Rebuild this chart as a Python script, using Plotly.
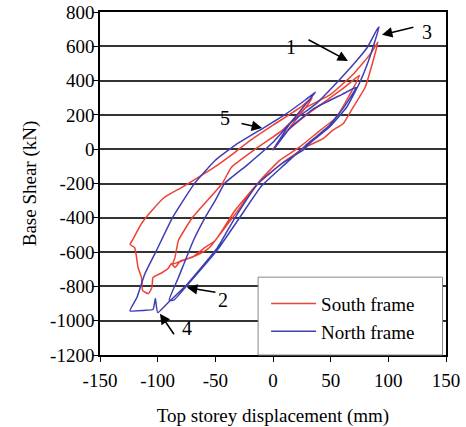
import plotly.graph_objects as go

# South frame (red): top storey displacement (mm) / base shear (kN)
south_d = [0, 15, 28, 34, 25, 0, -20, -33, -46, -59, -79, -94, -105, -114, -122, -124, -120, -119,
           -117, -114, -113, -108, -105, -104, -96, -91, -88, -85, -80, -70, -59, -50,
           -33, -13, 8, 28, 43, 52, 61, 68, 80, 87, 91,
           85, 70, 50, 28, 8, -13, -36, -44, -70, -82, -85, -87,
           -83, -78, -63, -55, -35, -11, 6, 23, 38, 55, 65, 75,
           60, 32, 12, 0]
south_v = [0, 130, 240, 300, 250, 140, 50, -18, -82, -140, -222, -280, -357, -433, -532, -555, -573, -600,
           -690, -748, -825, -842, -807, -748, -719, -696, -667, -690, -650, -630, -573, -532,
           -357, -199, -82, 12, 60, 111, 150, 228, 363, 520, 626,
           560, 440, 320, 240, 110, 12, -105, -200, -400, -532, -632, -670,
           -661, -649, -608, -573, -398, -181, -64, 12, 94, 187, 300, 430,
           350, 215, 105, 0]

# North frame (blue)
north_d = [0, 8, 15, 28, 37, 28, 10, -7, -33, -50, -68, -87, -101, -111, -118, -124,
           -112, -104, -102, -100, -91,
           -74, -48, -33, -13, 8, 26, 32, 49, 64, 75, 84, 92,
           90, 82, 73, 55, 38, 15, 0, -22, -42, -50, -59, -69, -82, -90,
           -86, -74, -48, -30, -10, 10, 28, 49, 62, 72,
           60, 35, 15, 0]
north_v = [-6, 80, 152, 260, 333, 287, 200, 129, 23, -64, -199, -398, -590, -725, -865, -942,
           -940, -935, -871, -953, -895,
           -784, -573, -400, -200, -82, -6, 35, 129, 246, 386, 538, 713,
           696, 596, 520, 386, 269, 152, 40, -90, -200, -298, -400, -532, -748, -880,
           -880, -790, -585, -410, -215, -90, 20, 140, 250, 360,
           320, 235, 125, -6]

x_ticks = [-150, -100, -50, 0, 50, 100, 150]
y_ticks = [800, 600, 400, 200, 0, -200, -400, -600, -800, -1000, -1200]

# Callout labels: text, label position, arrow tail, arrow tip
labels = ["1", "3", "5", "2", "4"]
label_xy = [(15.6, 596), (133.6, 684), (-41.6, 181), (-43.4, -877), (-74.6, -1041)]
tail_xy = [(29.5, 643), (123, 713), (-28.6, 152), (-48.6, -836), (-85, -1088)]
tip_xy = [(65, 515), (94.5, 667), (-9.5, 123), (-74.6, -807), (-98, -959)]

RED = "#ee4236"
BLUE = "#3f3fb5"
FONT = "Liberation Serif, Times New Roman, serif"

fig = go.Figure()
fig.add_trace(go.Scatter(x=south_d, y=south_v, mode="lines", name="South frame",
                         line=dict(color=RED, width=1.5, shape="spline", smoothing=0.4)))
fig.add_trace(go.Scatter(x=north_d, y=north_v, mode="lines", name="North frame",
                         line=dict(color=BLUE, width=1.5, shape="spline", smoothing=0.4)))

annotations = []
for t, (lx, ly), (ax, ay), (tx, ty) in zip(labels, label_xy, tail_xy, tip_xy):
    annotations.append(dict(x=tx, y=ty, ax=ax, ay=ay, xref="x", yref="y", axref="x", ayref="y",
                            text="", showarrow=True, arrowhead=2, arrowsize=1.3, arrowwidth=1.6,
                            arrowcolor="black", standoff=0))
    annotations.append(dict(x=lx, y=ly, xref="x", yref="y", text=t, showarrow=False,
                            font=dict(family=FONT, size=20, color="black")))

tickfont = dict(family=FONT, size=19, color="black")

fig.update_layout(
    width=466, height=427,
    margin=dict(l=100, r=20, t=12, b=72),
    paper_bgcolor="white", plot_bgcolor="white",
    font=dict(family=FONT, size=19, color="black"),
    annotations=annotations,
    shapes=[dict(type="rect", xref="paper", yref="paper", x0=0.457, x1=0.99, y0=0.0, y1=0.227,
                 fillcolor="white", line=dict(color="#888888", width=1), layer="above")],
    legend=dict(x=0.48, y=0.205, xanchor="left", yanchor="top", bgcolor="rgba(0,0,0,0)",
                font=dict(family=FONT, size=19), itemwidth=45, tracegroupgap=0),
    xaxis=dict(range=[-150, 150], tickvals=x_ticks, ticktext=[str(v) for v in x_ticks],
               showgrid=False, zeroline=False, showline=True, linecolor="black", linewidth=1.5,
               mirror=True, ticks="outside", ticklen=5, tickcolor="black", tickfont=tickfont,
               automargin=False, ticklabelstandoff=2, ticklabeloverflow="allow",
               title=dict(text="Top storey displacement (mm)", standoff=20,
                          font=dict(family=FONT, size=19))),
    yaxis=dict(range=[-1200, 800], tickvals=y_ticks, ticktext=[str(v) for v in y_ticks],
               showgrid=True, gridcolor="#333333", gridwidth=1.5, zeroline=False,
               showline=True, linecolor="black", linewidth=1.5, mirror=True,
               ticks="outside", ticklen=5, tickcolor="black", tickfont=tickfont,
               automargin=False, ticklabelstandoff=-5, ticklabeloverflow="allow",
               title=dict(text="Base Shear (kN)", standoff=8, font=dict(family=FONT, size=19))),
)

fig.write_html("out.html", config={"displayModeBar": False},
               post_script="document.body.style.margin='0';")
